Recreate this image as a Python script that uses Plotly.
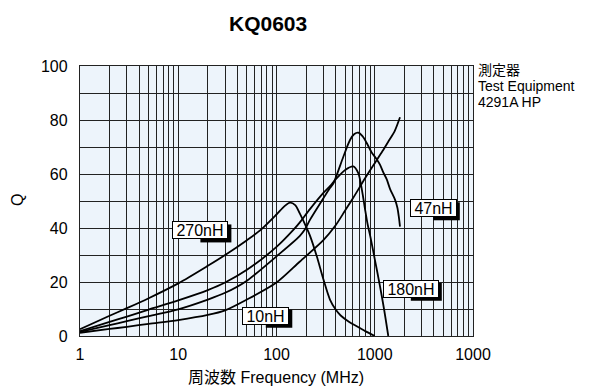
import math
import plotly.graph_objects as go

# ---------------- data ----------------
f_270 = [1, 2, 3, 5, 10, 20, 30, 50, 70, 100, 120, 137, 155, 172, 200, 220, 257, 300, 350, 400, 450, 550, 656, 800, 1000]
q_270 = [2.5, 7.5, 10.3, 14, 19.5, 26, 30, 35.5, 39.5, 45, 48, 49.4, 48.5, 45.5, 40.5, 37, 29.5, 21, 13.5, 9.8, 7.6, 5.2, 3.6, 1.8, 0]

f_180 = [1, 2, 3, 5, 10, 20, 30, 50, 100, 150, 172, 219, 300, 350, 400, 500, 605, 680, 741, 796, 850, 900, 1000, 1130, 1243, 1373]
q_180 = [1.8, 5.2, 7.2, 9.8, 13.2, 17, 19.8, 24.5, 33, 39.5, 42, 47, 53, 55.5, 58, 61.5, 62.8, 60.3, 54, 47, 41, 37, 28.5, 18.5, 10, 0]

f_47 = [1, 2, 3, 5, 10, 20, 30, 50, 100, 172, 195, 219, 300, 350, 379, 479, 560, 620, 680, 750, 828, 930, 1045, 1130, 1225, 1325, 1430, 1607, 1700, 1760, 1807]
q_47 = [1.5, 4, 5.5, 7.4, 9.9, 13.5, 16, 20.5, 29.5, 37, 39.5, 43, 51, 54.8, 56.5, 66.4, 72.6, 74.8, 75.3, 74, 71.5, 68, 65.5, 63.5, 60.5, 58, 54.5, 50.5, 47.5, 44, 40.5]

f_10 = [1, 2, 3, 5, 10, 20, 30, 50, 100, 172, 300, 400, 500, 600, 800, 1000, 1200, 1400, 1600, 1807]
q_10 = [1.2, 2.6, 3.4, 4.5, 5.9, 7.8, 9.5, 13.5, 19.8, 27.5, 35.5, 41, 46.5, 51, 58.5, 64, 68.5, 72.5, 76, 81]

series_names = ["270nH", "180nH", "47nH", "10nH"]
label_f = [16.8, 2328, 3945, 77.8]
label_q = [39.1, 17.5, 47.3, 7.5]

x_major = [1, 10, 100, 1000, 10000]
x_major_text = ["1", "10", "100", "1000", "1000"]
y_ticks = [0, 20, 40, 60, 80, 100]

note_lines = ["測定器", "Test Equipment", "4291A HP"]

FONT = "Arial, 'Liberation Sans', 'Noto Sans CJK JP', sans-serif"

fig = go.Figure()
for f, q in [(f_270, q_270), (f_180, q_180), (f_47, q_47), (f_10, q_10)]:
    fig.add_trace(go.Scatter(
        x=f, y=q, mode="lines",
        line=dict(color="black", width=1.8, shape="spline", smoothing=0.8),
        showlegend=False, hoverinfo="skip"))

# grid tick positions (log minor lines)
x_grid = []
x_grid_text = []
for d in [1, 10, 100, 1000]:
    for m in range(1, 10):
        x_grid.append(d * m)
        x_grid_text.append(x_major_text[x_major.index(d)] if m == 1 else "")
x_grid.append(10000)
x_grid_text.append(x_major_text[-1])

y_grid = list(range(0, 101, 10))
y_grid_text = [str(v) if v in y_ticks else "" for v in y_grid]

L, R, T, B = 80, 473, 66, 336
W, H = R - L, B - T


def px(x, y):
    return (x - L) / W, (B - y) / H


fig.update_layout(
    width=590, height=387,
    margin=dict(l=L, r=590 - R, t=T, b=387 - B),
    paper_bgcolor="white",
    plot_bgcolor="#EDF4FB",
    font=dict(family=FONT, size=16, color="black"),
    xaxis=dict(type="log", range=[0, 4], tickmode="array", tickvals=x_grid, ticktext=x_grid_text,
               showgrid=True, gridcolor="#222222", gridwidth=1.3, ticks="",
               showline=True, mirror=True, linecolor="#222222", linewidth=1.3,
               zeroline=False, tickfont=dict(size=16), ticklabelstandoff=4),
    yaxis=dict(range=[0, 100], tickmode="array", tickvals=y_grid, ticktext=y_grid_text,
               showgrid=True, gridcolor="#222222", gridwidth=1.3, ticks="",
               showline=True, mirror=True, linecolor="#222222", linewidth=1.3,
               zeroline=False, tickfont=dict(size=16), ticklabelstandoff=8),
)

ann = []
shapes = []
label_w = {"270nH": 52, "180nH": 52, "47nH": 43, "10nH": 43}
LH = 14
# curve labels with drop shadow
for name, lf, lq in zip(series_names, label_f, label_q):
    ow, oh = label_w[name] + 4, LH + 4
    shapes.append(dict(type="rect", xref="x", yref="y", xsizemode="pixel", ysizemode="pixel",
                       xanchor=lf, yanchor=lq,
                       x0=-ow / 2 + 3, x1=ow / 2 + 3, y0=-oh / 2 - 3, y1=oh / 2 - 3,
                       fillcolor="black", line=dict(width=0), layer="above"))
    ann.append(dict(x=math.log10(lf), y=lq, xref="x", yref="y", text=name, showarrow=False,
                    font=dict(size=16, color="black"), bgcolor="white", bordercolor="black",
                    borderwidth=1, borderpad=1, width=label_w[name], height=LH))

# title
x, y = px(268, 23)
ann.append(dict(x=x, y=y, xref="paper", yref="paper", text="<b>KQ0603</b>",
                showarrow=False, font=dict(size=21), xanchor="center", yanchor="middle"))
# axis titles
x, y = px(276, 377)
ann.append(dict(x=x, y=y, xref="paper", yref="paper", text="周波数 Frequency (MHz)",
                showarrow=False, font=dict(size=16), xanchor="center", yanchor="middle"))
x, y = px(17, 200)
ann.append(dict(x=x, y=y, xref="paper", yref="paper", text="Q", textangle=-90,
                showarrow=False, font=dict(size=16), xanchor="center", yanchor="middle"))
# equipment note (tight leading: small base size, larger glyphs)
note_text = "<br>".join('<span style="font-size:14px">%s</span>' % t for t in note_lines)
x, y = px(477, 86)
ann.append(dict(x=x, y=y, xref="paper", yref="paper", text=note_text, align="left",
                showarrow=False, font=dict(size=12.3), xanchor="left", yanchor="middle",
                borderpad=0))

fig.update_layout(annotations=ann, shapes=shapes)
fig.write_html("out.html", config={"displayModeBar": False},
               post_script="document.body.style.margin='0';document.body.style.overflow='hidden';")
